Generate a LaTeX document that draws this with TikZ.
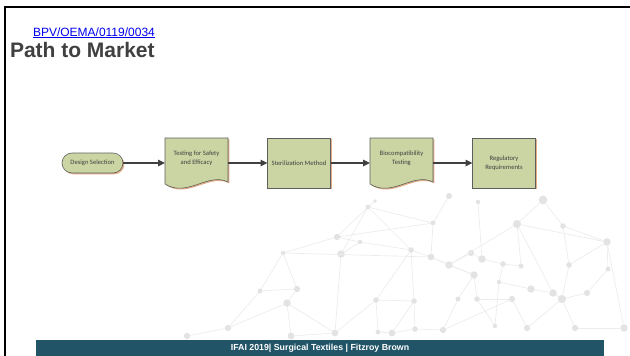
\documentclass[tikz,border=0pt]{standalone}
\usepackage{fontspec}
\setmainfont{Liberation Sans}
\newfontfamily\boxfont{Carlito}
\usetikzlibrary{positioning,calc,shadows,arrows.meta}

\pgfdeclarelayer{background}
\pgfsetlayers{background,main}

\definecolor{boxgreen}{RGB}{202,213,163}
\definecolor{boxline}{RGB}{94,94,94}
\definecolor{boxshade}{RGB}{222,160,112}
\definecolor{flowgray}{RGB}{64,64,64}
\definecolor{titlegray}{RGB}{64,64,64}
\definecolor{refblue}{RGB}{0,0,238}
\definecolor{footteal}{RGB}{34,84,104}
\definecolor{linegray}{RGB}{236,236,236}
\definecolor{dotgray}{RGB}{227,227,227}

\begin{document}
\begin{tikzpicture}
[x=1pt,y=-1pt,
 every node/.style={inner sep=0pt,outer sep=0pt},
 proc/.style={rectangle,draw=boxline,line width=0.6pt,fill=boxgreen,minimum width=63pt,minimum height=50pt,
   align=center,text=flowgray,font=\boxfont\fontsize{6.6}{9}\selectfont,
   drop shadow={shadow xshift=1.3pt,shadow yshift=-1.3pt,fill=boxshade,opacity=0.85}},
 term/.style={proc,rounded corners=10pt,minimum width=61pt,minimum height=20pt},
 doc/.style={rectangle,minimum width=63pt,minimum height=41pt,align=center,text=flowgray,
   font=\boxfont\fontsize{6.6}{9}\selectfont},
 docbody/.style={draw=boxline,line width=0.6pt,fill=boxgreen,
   drop shadow={shadow xshift=1.3pt,shadow yshift=-1.3pt,fill=boxshade,opacity=0.85}},
 flow/.style={draw=flowgray,line width=1.6pt,-{Triangle[length=7pt,width=6.5pt]}},
 netdot/.style={circle,fill=dotgray,draw=none},
 netedge/.style={draw=linegray,line width=0.7pt},
 footbar/.style={fill=footteal,text=white,minimum width=568pt,minimum height=16pt,
   font=\bfseries\fontsize{8.8}{10}\selectfont}]

\useasboundingbox (0,0) rectangle (630,356);

% background network
\begin{pgfonlayer}{background}
\foreach \n/\px/\py/\s in {a/375/201/3,b/368/207/4,c/449/196/5,d/478/202/3.5,e/543/200/7,
  f/563/226/4.5,g/517/224/6.5,h/433/223/4,i/337/237/5,j/360/242/3.5,k/341/254/6,l/411/250/4.5,
  m/431/257/5.5,n/449/265/6,o/471/253/5,p/482/259/6,q/503/264/4.5,r/521/266/4,s/569/265/4.5,
  t/607/242/6,u/608/269/4,v/474/275/6,w/499/282/3.5,x/531/289/6,y/553/293/6,z/562/299/6.5,
  aa/587/293/5,bb/376/300/4.5,cc/414/301/4.5,dd/458/299/4,ee/477/299/4.5,ff/512/299/5,
  gg/335/333/5.5,hh/378/332/4,ii/392/333/5.5,jj/415/329/4.5,kk/443/330/5,ll/495/326/3.5,
  mm/527/328/5,nn/575/328/5,oo/624/328/6,pp/283/253/3.5,qq/260/291/4,rr/297/289/5,
  ss/287/303/6,tt/228/328/5,uu/187/336/5,vv/291/336/5.5}
  \node[netdot,minimum size=1.25*\s pt] (N\n) at (\px,\py) {};

\foreach \u/\v in {b/a,b/h,b/i,b/l,b/k,c/h,h/i,h/m,d/p,e/g,e/f,g/t,g/r,g/y,g/n,f/t,f/s,t/s,
  t/u,t/oo,s/z,i/j,j/l,j/k,k/gg,l/bb,l/cc,l/m,m/n,m/v,n/o,n/v,o/p,p/q,q/r,q/w,w/x,x/y,y/z,
  z/aa,aa/u,z/nn,z/mm,v/ee,v/dd,ee/ff,ff/mm,ff/kk,dd/kk,cc/jj,cc/ii,bb/cc,bb/hh,bb/gg,
  hh/ii,ii/jj,jj/kk,ll/w,ll/ee,nn/oo,pp/i,pp/qq,pp/m,pp/rr,qq/rr,qq/tt,rr/ss,ss/vv,ss/tt,
  ss/gg,tt/uu,vv/gg}
  \path[netedge] (N\u) -- (N\v);
\end{pgfonlayer}

% slide frame
\draw[line width=2.2pt] (5.3,357) -- (5.3,6.6) -- (631,6.6);

% titles
\node[anchor=base west,text=refblue,font=\fontsize{12}{14}\selectfont] (ref) at (33,36)
  {\underline{BPV/OEMA/0119/0034}};
\node[anchor=base west,text=titlegray,font=\bfseries\fontsize{21}{24}\selectfont] (title) at (10,57)
  {Path to Market};

% flow
\node[term] (design)  at (92.5,163)                                {Design Selection};
\node[doc]  (testing) [on grid,right=104pt of design,yshift=4.5pt]  {Testing for Safety\\and Efficacy};
\node[proc] (sterile) [on grid,right=102.5pt of testing,yshift=-4.5pt] {Sterilization Method};
\node[doc]  (biocomp) [on grid,right=102.5pt of sterile,yshift=4.5pt]  {Biocompatibility\\Testing};
\node[proc] (regul)   [on grid,right=102.5pt of biocomp,yshift=-4.5pt] {Regulatory\\Requirements};

\begin{pgfonlayer}{background}
\foreach \d in {testing,biocomp}
  \path[docbody] (\d.north west) -- (\d.north east) -- ($(\d.south east)+(0,3)$)
    .. controls ($(\d.south east)+(-20,-7)$) and ($(\d.south west)+(22,19)$) .. ($(\d.south west)+(0,5)$)
    -- cycle;
\end{pgfonlayer}

\path[flow] (design.east)               -- (design.east -| testing.west);
\path[flow] (sterile.west -| testing.east) -- (sterile.west);
\path[flow] (sterile.east)              -- (sterile.east -| biocomp.west);
\path[flow] (regul.west -| biocomp.east) -- (regul.west);

% footer
\node[footbar] (foot) at (320,348) {IFAI 2019| Surgical Textiles | Fitzroy Brown};

\end{tikzpicture}
\end{document}
